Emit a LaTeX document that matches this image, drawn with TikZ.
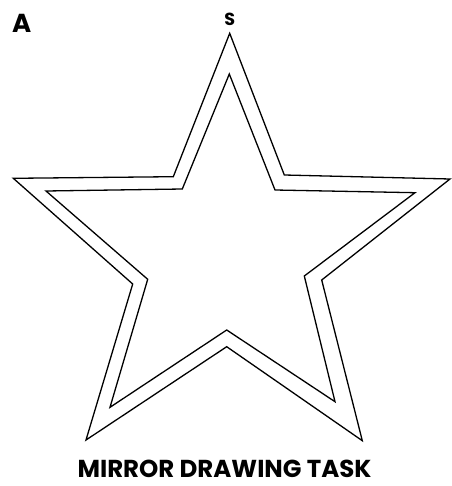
\documentclass[tikz,border=0pt]{standalone}
\usepackage{fontspec}
\newfontfamily\pop{Poppins}
\begin{document}
\begin{tikzpicture}[x=1pt,y=-1pt,
  starline/.style={draw=black,line width=1.3pt,line join=miter},
  lbl/.style={inner sep=0pt,anchor=base,font=\pop\bfseries}]
\useasboundingbox (0,0) rectangle (451,486);
% outer star
\coordinate (o1) at (229.7,33.3);
\coordinate (o2) at (284.3,175);
\coordinate (o3) at (450,179);
\coordinate (o4) at (321.7,280);
\coordinate (o5) at (362.3,440.7);
\coordinate (o6) at (226.7,346.7);
\coordinate (o7) at (86,440);
\coordinate (o8) at (132.7,284);
\coordinate (o9) at (13.3,178.3);
\coordinate (o10) at (173.3,176.7);
% inner star
\coordinate (i1) at (229.3,74);
\coordinate (i2) at (275,190);
\coordinate (i3) at (415,192.7);
\coordinate (i4) at (304.3,276);
\coordinate (i5) at (335,401.7);
\coordinate (i6) at (226.7,330);
\coordinate (i7) at (110,407.3);
\coordinate (i8) at (147.7,279.3);
\coordinate (i9) at (46,191);
\coordinate (i10) at (182.3,189);
\draw[starline] (o1) -- (o2) -- (o3) -- (o4) -- (o5) -- (o6) -- (o7) -- (o8) -- (o9) -- (o10) -- cycle;
\draw[starline] (i1) -- (i2) -- (i3) -- (i4) -- (i5) -- (i6) -- (i7) -- (i8) -- (i9) -- (i10) -- cycle;
\node[lbl,font=\pop\bfseries\fontsize{26}{26}\selectfont] (a) at (21.7,32.5) {A};
\node[lbl,font=\pop\bfseries\fontsize{17.5}{17.5}\selectfont] (s) at (229.7,26) {S};
\node[lbl,font=\pop\bfseries\fontsize{24.5}{24.5}\selectfont] (t) at (224.5,477.5) {MIRROR DRAWING TASK};
\end{tikzpicture}
\end{document}
